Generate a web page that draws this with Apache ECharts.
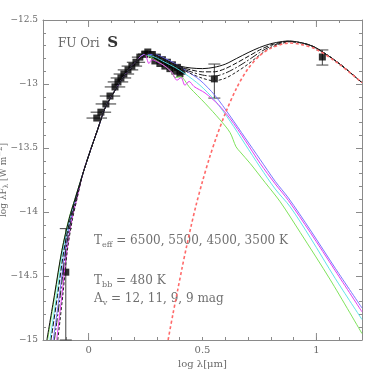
<!DOCTYPE html>
<html>
<head>
<meta charset="utf-8">
<script src="https://cdn.jsdelivr.net/npm/echarts@6/dist/echarts.min.js"></script>
<style>
  html, body { margin: 0; padding: 0; background: #fff; }
  #chart { width: 382px; height: 380px; }
</style>
</head>
<body>
<div id="chart"></div>
<script>
// observed fluxes (log lambda [um], log lambda F_lambda [W m-2])
const obsX = [-0.10, 0.036, 0.054, 0.076, 0.094, 0.116, 0.129, 0.142, 0.155, 0.173, 0.19, 0.208, 0.225, 0.247, 0.26,
  0.28, 0.291, 0.302, 0.313, 0.324, 0.335, 0.346, 0.357, 0.368, 0.379, 0.39, 0.401, 0.41, 0.552, 1.026];
const obsY = [-14.47, -13.266, -13.22, -13.156, -13.094, -13.023, -12.984, -12.953, -12.922, -12.89, -12.86, -12.83, -12.79, -12.766, -12.75,
  -12.77, -12.82, -12.79, -12.84, -12.81, -12.86, -12.83, -12.88, -12.85, -12.90, -12.87, -12.92, -12.90, -12.96, -12.789];
const obsXErr = [0, 0.045, 0.045, 0.045, 0.045, 0.045, 0.045, 0.045, 0.045, 0.045, 0.045, 0.04, 0.035, 0.03, 0.03,
  0, 0, 0, 0, 0, 0, 0, 0, 0, 0, 0, 0, 0, 0, 0];
// vertical error bars: x, upper, lower
const vErrBars = [[-0.10, -14.13, -15.0], [0.552, -12.844, -13.11], [1.026, -12.734, -12.852]];

// total model SEDs (photosphere + 480 K shell)
const blackA = [[-0.183, -15], [-0.15, -14.65], [-0.117, -14.3], [-0.085, -14.05], [-0.06, -13.9], [-0.025, -13.70], [0.006, -13.53], [0.041, -13.35], [0.072, -13.19], [0.116, -13.05], [0.16, -12.93], [0.204, -12.83], [0.247, -12.775], [0.27, -12.76], [0.313, -12.79], [0.357, -12.83],
  [0.4, -12.86], [0.45, -12.875], [0.5, -12.88], [0.55, -12.87], [0.6, -12.845], [0.65, -12.80], [0.7, -12.755], [0.75, -12.715], [0.8, -12.685], [0.85, -12.668], [0.88, -12.664], [0.95, -12.685], [1.0, -12.72], [1.1, -12.84], [1.2, -12.99]];
const blackB = [[-0.165, -15], [-0.136, -14.65], [-0.108, -14.3], [-0.08, -14.05], [-0.057, -13.9], [-0.025, -13.70], [0.006, -13.53], [0.041, -13.35], [0.072, -13.19], [0.116, -13.05], [0.16, -12.93], [0.204, -12.83], [0.247, -12.775], [0.27, -12.76], [0.313, -12.79], [0.357, -12.83],
  [0.4, -12.865], [0.45, -12.89], [0.5, -12.905], [0.55, -12.905], [0.6, -12.88], [0.65, -12.835], [0.7, -12.785], [0.75, -12.735], [0.8, -12.695], [0.85, -12.672], [0.88, -12.666], [0.95, -12.685], [1.0, -12.72], [1.1, -12.84], [1.2, -12.99]];
const blackC = [[-0.15, -15], [-0.124, -14.65], [-0.1, -14.3], [-0.075, -14.05], [-0.054, -13.9], [-0.025, -13.70], [0.006, -13.53], [0.041, -13.35], [0.072, -13.19], [0.116, -13.05], [0.16, -12.93], [0.204, -12.83], [0.247, -12.775], [0.27, -12.76], [0.313, -12.79], [0.357, -12.83],
  [0.4, -12.87], [0.45, -12.905], [0.5, -12.93], [0.55, -12.94], [0.6, -12.915], [0.65, -12.87], [0.7, -12.815], [0.75, -12.755], [0.8, -12.705], [0.85, -12.677], [0.88, -12.668], [0.95, -12.685], [1.0, -12.72], [1.1, -12.84], [1.2, -12.99]];
const blackD = [[-0.135, -15], [-0.113, -14.65], [-0.093, -14.3], [-0.07, -14.05], [-0.051, -13.9], [-0.025, -13.70], [0.006, -13.53], [0.041, -13.35], [0.072, -13.19], [0.116, -13.05], [0.16, -12.93], [0.204, -12.83], [0.247, -12.775], [0.27, -12.76], [0.313, -12.79], [0.357, -12.83],
  [0.4, -12.875], [0.45, -12.92], [0.5, -12.955], [0.55, -12.975], [0.6, -12.955], [0.65, -12.905], [0.7, -12.845], [0.75, -12.775], [0.8, -12.715], [0.85, -12.682], [0.88, -12.67], [0.95, -12.685], [1.0, -12.72], [1.1, -12.84], [1.2, -12.99]];

// reddened photospheres, Teff = 6500, 5500, 4500, 3500 K
const magentaSed = [[-0.14, -15], [-0.117, -14.65], [-0.095, -14.3], [-0.072, -14.05], [-0.052, -13.9], [-0.025, -13.70], [0.006, -13.53], [0.041, -13.35], [0.072, -13.19], [0.116, -13.05], [0.16, -12.93], [0.204, -12.83],
  [0.247, -12.77], [0.265, -12.84], [0.278, -12.81], [0.305, -12.83], [0.335, -12.86], [0.366, -12.91], [0.388, -12.97], [0.406, -12.95], [0.423, -13.01], [0.441, -12.98], [0.463, -13.02], [0.511, -13.07], [0.569, -13.16], [0.621, -13.27], [0.687, -13.44], [0.753, -13.62], [0.819, -13.78], [0.877, -13.91], [0.973, -14.16], [1.083, -14.46], [1.2, -14.78]];
const blueSed = [[-0.155, -15], [-0.128, -14.65], [-0.103, -14.3], [-0.077, -14.05], [-0.055, -13.9], [-0.025, -13.70], [0.006, -13.53], [0.041, -13.35], [0.072, -13.19], [0.116, -13.05], [0.16, -12.93], [0.204, -12.83],
  [0.247, -12.77], [0.291, -12.77], [0.335, -12.80], [0.379, -12.84], [0.423, -12.89], [0.489, -12.97], [0.555, -13.09], [0.621, -13.25], [0.687, -13.42], [0.753, -13.59], [0.819, -13.76], [0.877, -13.89], [0.973, -14.14], [1.083, -14.44], [1.2, -14.75]];
const cyanSed = [[-0.17, -15], [-0.14, -14.65], [-0.112, -14.3], [-0.082, -14.05], [-0.058, -13.9], [-0.025, -13.70], [0.006, -13.53], [0.041, -13.35], [0.072, -13.19], [0.116, -13.05], [0.16, -12.93], [0.204, -12.83],
  [0.247, -12.77], [0.291, -12.79], [0.335, -12.83], [0.379, -12.87], [0.423, -12.92], [0.489, -13.01], [0.555, -13.13], [0.621, -13.29], [0.687, -13.47], [0.753, -13.65], [0.819, -13.82], [0.885, -13.96], [0.973, -14.2], [1.083, -14.52], [1.2, -14.84]];
const greenSed = [[-0.18, -15], [-0.148, -14.65], [-0.117, -14.3], [-0.086, -14.05], [-0.06, -13.9], [-0.025, -13.70], [0.006, -13.53], [0.041, -13.35], [0.072, -13.19], [0.116, -13.05], [0.16, -12.93], [0.204, -12.83],
  [0.247, -12.77], [0.291, -12.81], [0.335, -12.86], [0.366, -12.91], [0.379, -12.95], [0.401, -12.94], [0.445, -13.03], [0.511, -13.15], [0.577, -13.28], [0.621, -13.38], [0.647, -13.49], [0.665, -13.53], [0.709, -13.62], [0.775, -13.77], [0.841, -13.92], [0.929, -14.16], [1.061, -14.53], [1.2, -14.95]];

// 480 K blackbody
const bbSed = [[0.349, -15.0], [0.37, -14.80], [0.39, -14.62], [0.41, -14.44], [0.43, -14.27], [0.45, -14.11], [0.472, -13.945], [0.50, -13.76], [0.53, -13.58], [0.56, -13.42], [0.60, -13.23], [0.65, -13.03], [0.70, -12.88],
  [0.75, -12.78], [0.80, -12.72], [0.85, -12.688], [0.88, -12.68], [0.93, -12.69], [1.0, -12.73], [1.1, -12.845], [1.2, -12.99]];

// tick labels
const xLabelValues = [0, 0.5, 1];
const xLabelTexts = ['0', '0.5', '1'];
const yLabelValues = [-15, -14.5, -14, -13.5, -13, -12.5];
const yLabelTexts = ['\u221215', '\u221214.5', '\u221214', '\u221213.5', '\u221213', '\u221212.5'];
const xMajorTicks = [0, 1];

const FONT = '"DejaVu Serif", "Liberation Serif", serif';
const AXIS = '#8a8a8a';
const LABEL = '#6a6a6a';

function pickLabel(values, texts, v) {
  for (let i = 0; i < values.length; i++) {
    if (Math.abs(values[i] - v) < 1e-6) return texts[i];
  }
  return '';
}

const hErr = obsX.map((x, i) => [x, obsY[i], obsXErr[i]]).filter(d => d[2] > 0);
const points = obsX.map((x, i) => [x, obsY[i]]);

const chart = echarts.init(document.getElementById('chart'));

const xBase = {
  type: 'value', min: -0.2, max: 1.2, interval: 0.1,
  axisLine: { onZero: false, lineStyle: { color: AXIS, width: 1 } },
  axisTick: { inside: true, length: 3, lineStyle: { color: AXIS } },
  splitLine: { show: false }
};
const yBase = {
  type: 'value', min: -15, max: -12.5, interval: 0.5,
  axisLine: { onZero: false, lineStyle: { color: AXIS, width: 1 } },
  axisTick: { inside: true, length: 6, lineStyle: { color: AXIS } },
  minorTick: { show: true, splitNumber: 5, length: 3, lineStyle: { color: AXIS } },
  splitLine: { show: false }
};

const lineSeries = (data, color, type, width) => ({
  type: 'line', data: data, showSymbol: false, symbol: 'none', smooth: 0.3,
  lineStyle: { color: color, width: width || 1, type: type || 'solid' },
  silent: true, clip: true
});

const subText = (left, top, text) => ({
  type: 'text', left: left, top: top, silent: true,
  style: {
    text: text,
    rich: {
      t: { fontFamily: FONT, fontSize: 12, fill: '#707070' },
      s: { fontFamily: FONT, fontSize: 8, fill: '#707070', padding: [7, 0, 0, 0] }
    }
  }
});

chart.setOption({
  animation: false,
  backgroundColor: '#fff',
  grid: { left: 43, right: 20, top: 20, bottom: 40, containLabel: false, outerBoundsMode: 'none' },
  xAxis: [
    Object.assign({}, xBase, {
      position: 'bottom',
      name: 'log \u03bb[\u03bcm]', nameLocation: 'middle', nameGap: 12,
      nameTextStyle: { fontFamily: FONT, fontSize: 10, color: LABEL },
      axisLabel: {
        fontFamily: FONT, fontSize: 10, color: LABEL, margin: 5,
        formatter: v => pickLabel(xLabelValues, xLabelTexts, v)
      }
    }),
    Object.assign({}, xBase, { position: 'top', axisLabel: { show: false } })
  ],
  yAxis: [
    Object.assign({}, yBase, {
      position: 'left',
      name: '{t|log \u03bbF}{s|\u03bb}{t| [W m}{p|\u22122}{t|]}',
      nameLocation: 'middle', nameGap: 33, nameRotate: 90, nameMoveOverlap: false,
      nameTextStyle: {
        fontFamily: FONT, color: LABEL,
        rich: {
          t: { fontFamily: FONT, fontSize: 9, color: LABEL },
          s: { fontFamily: FONT, fontSize: 7, color: LABEL, padding: [6, 0, 0, 0] },
          p: { fontFamily: FONT, fontSize: 7, color: LABEL, padding: [0, 0, 6, 0] }
        }
      },
      axisLabel: {
        fontFamily: FONT, fontSize: 9, color: LABEL, margin: 5,
        formatter: v => pickLabel(yLabelValues, yLabelTexts, v)
      }
    }),
    Object.assign({}, yBase, { position: 'right', axisLabel: { show: false } })
  ],
  graphic: [
    {
      type: 'text', left: 58, top: 36, silent: true,
      style: {
        text: '{a|FU Ori  }{b|S}',
        rich: {
          a: { fontFamily: FONT, fontSize: 12, fill: '#666' },
          b: { fontFamily: FONT, fontSize: 15, fontWeight: 'bold', fill: '#333' }
        }
      }
    },
    subText(94, 235, '{t|T}{s|eff}{t| = 6500, 5500, 4500, 3500 K}'),
    subText(94, 275, '{t|T}{s|bb}{t| = 480 K}'),
    subText(94, 293, '{t|A}{s|v}{t| = 12, 11, 9, 9 mag}')
  ],
  series: [
    lineSeries(greenSed, '#6fe04a', 'solid', 0.9),
    lineSeries(cyanSed, '#4fe0e6', 'solid', 0.9),
    lineSeries(blueSed, '#6a64ff', 'solid', 0.9),
    lineSeries(magentaSed, '#e23cf2', 'solid', 1),
    lineSeries(blackA, '#111', 'solid', 1),
    lineSeries(blackB, '#111', [5, 2], 1),
    lineSeries(blackC, '#222', [8, 2, 2, 2], 1),
    lineSeries(blackD, '#222', [3, 2], 1),
    lineSeries(bbSed, '#ff6a6a', [3, 2.5], 1.6),
    {
      type: 'custom', silent: true, data: hErr, encode: { x: 0, y: 1 },
      renderItem: (params, api) => {
        const x = api.value(0), y = api.value(1), e = api.value(2);
        const a = api.coord([x - e, y]);
        const b = api.coord([x + e, y]);
        return {
          type: 'line',
          shape: { x1: a[0], y1: a[1], x2: b[0], y2: b[1] },
          style: { stroke: '#333', lineWidth: 1 }
        };
      }
    },
    {
      type: 'custom', silent: true, data: vErrBars, encode: { x: 0, y: [1, 2] },
      renderItem: (params, api) => {
        const x = api.value(0);
        const hi = api.coord([x, api.value(1)]);
        const lo = api.coord([x, api.value(2)]);
        const style = { stroke: '#444', lineWidth: 1 };
        return {
          type: 'group',
          children: [
            { type: 'line', shape: { x1: hi[0], y1: hi[1], x2: lo[0], y2: lo[1] }, style: style },
            { type: 'line', shape: { x1: hi[0] - 6, y1: hi[1], x2: hi[0] + 6, y2: hi[1] }, style: style },
            { type: 'line', shape: { x1: lo[0] - 6, y1: lo[1], x2: lo[0] + 6, y2: lo[1] }, style: style }
          ]
        };
      }
    },
    {
      type: 'scatter', data: points, symbol: 'rect', symbolSize: 7,
      itemStyle: { color: '#000' }, silent: true
    },
    {
      // longer ticks at 0 and 1 on the lambda axes
      type: 'custom', silent: true, data: xMajorTicks.map(v => [v]), encode: { x: 0 },
      renderItem: (params, api) => {
        const x = api.value(0);
        const b = api.coord([x, -15]);
        const t = api.coord([x, -12.5]);
        const style = { stroke: AXIS, lineWidth: 1 };
        return {
          type: 'group',
          children: [
            { type: 'line', shape: { x1: b[0], y1: b[1], x2: b[0], y2: b[1] - 7 }, style: style },
            { type: 'line', shape: { x1: t[0], y1: t[1], x2: t[0], y2: t[1] + 7 }, style: style }
          ]
        };
      }
    }
  ]
});
</script>
</body>
</html>
